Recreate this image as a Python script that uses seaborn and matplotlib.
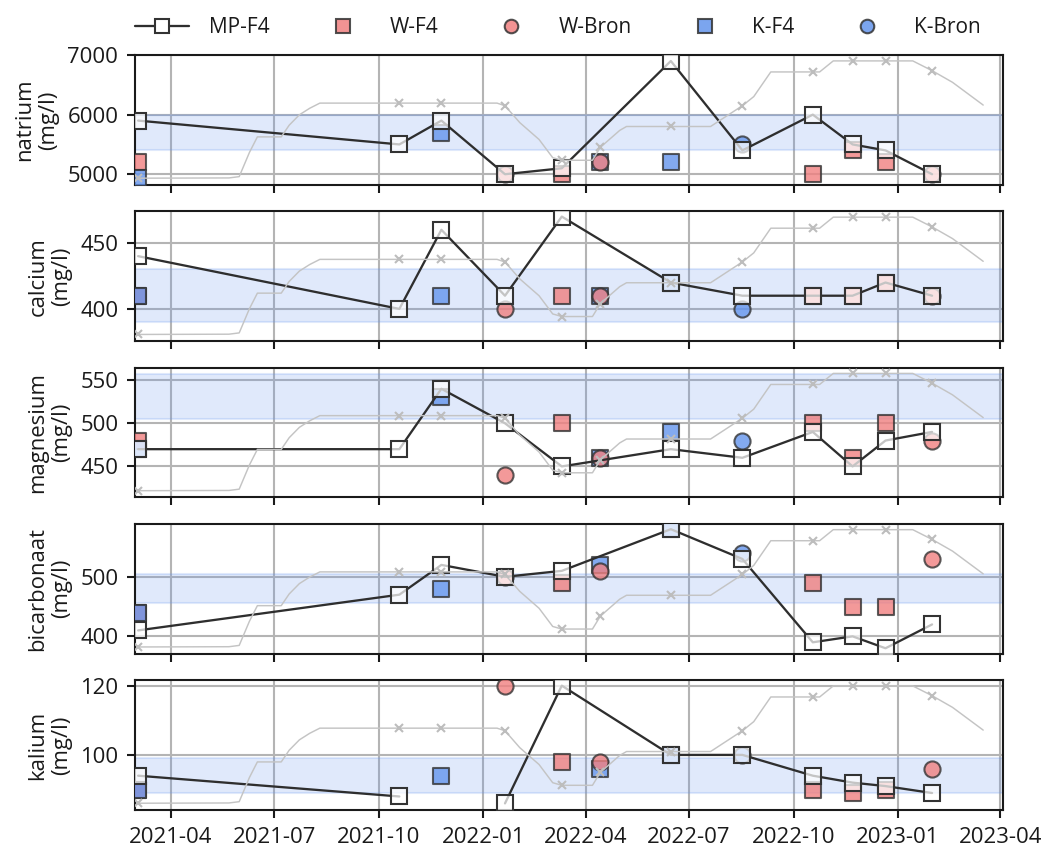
import numpy as np
import pandas as pd
import matplotlib
matplotlib.use("Agg")
import matplotlib.pyplot as plt
import matplotlib.dates as mdates
from matplotlib.lines import Line2D
import seaborn as sns

# ---- sample dates per source -------------------------------------------
mp_dates = ["2021-03-03", "2021-10-19", "2021-11-25", "2022-01-20", "2022-03-11",
            "2022-06-15", "2022-08-17", "2022-10-18", "2022-11-22", "2022-12-21",
            "2023-01-31"]
wf4_dates = ["2021-03-03", "2022-03-11", "2022-10-18", "2022-11-22", "2022-12-21"]
wbron_dates = ["2022-01-20", "2022-04-14", "2023-01-31"]
kf4_dates = ["2021-03-03", "2021-11-25", "2022-04-14", "2022-06-15"]
kbron_dates = ["2022-08-17"]

nan = np.nan

# ---- concentrations (mg/l) ---------------------------------------------
natrium_mp = [5900, 5500, 5900, 5000, 5100, 6900, 5400, 6000, 5500, 5400, 5000]
natrium_wf4 = [5200, 5000, 5000, 5400, 5200]
natrium_wbron = [5000, 5200, 5000]
natrium_kf4 = [4930, 5700, 5200, 5200]
natrium_kbron = [5500]

calcium_mp = [440, 400, 460, 410, 470, 420, 410, 410, 410, 420, 410]
calcium_wf4 = [410, 410, 410, 410, 420]
calcium_wbron = [400, 410, 410]
calcium_kf4 = [410, 410, 410, 420]
calcium_kbron = [400]

magnesium_mp = [470, 470, 540, 500, 450, 470, 460, 490, 450, 480, 490]
magnesium_wf4 = [480, 500, 500, 460, 500]
magnesium_wbron = [440, 460, 480]
magnesium_kf4 = [470, 530, 460, 490]
magnesium_kbron = [480]

bicarbonaat_mp = [410, 470, 520, 500, 510, 580, 530, 390, 400, 380, 420]
bicarbonaat_wf4 = [440, 490, 490, 450, 450]
bicarbonaat_wbron = [500, 510, 530]
bicarbonaat_kf4 = [440, 480, 520, 580]
bicarbonaat_kbron = [540]

kalium_mp = [94, 88, nan, 86, 120, 100, 100, 94, 92, 91, 89]
kalium_wf4 = [90, 98, 90, 89, 90]
kalium_wbron = [120, 98, 96]
kalium_kf4 = [90, 94, 96, 100]
kalium_kbron = [100]

# ---- reference bands and axis ranges ----------------------------------
params = ["natrium", "calcium", "magnesium", "bicarbonaat", "kalium"]
band_low = [5400, 390, 505, 456, 89]
band_high = [6000, 430, 557, 505, 99]
y_min = [4820, 375.5, 414, 370.8, 84.1]
y_max = [7000, 474, 564.6, 589, 121.6]
y_ticks = [[5000, 6000, 7000], [400, 450], [450, 500, 550], [400, 500], [100, 120]]

# ---- relative trend (percent of panel scale), drawn on a hidden twin axis
trend_dates = ["2021-03-03", "2021-05-22", "2021-05-31", "2021-06-09", "2021-06-16",
               "2021-07-07", "2021-07-14", "2021-07-23", "2021-08-01", "2021-08-10",
               "2021-10-19", "2021-11-25", "2022-01-13", "2022-01-20", "2022-02-02",
               "2022-02-19", "2022-03-03", "2022-03-11", "2022-04-07", "2022-04-14",
               "2022-05-01", "2022-05-07", "2022-06-15", "2022-07-20", "2022-08-17",
               "2022-08-27", "2022-09-11", "2022-10-18", "2022-10-24", "2022-11-05",
               "2022-11-22", "2022-12-21", "2023-01-14", "2023-01-31", "2023-02-18",
               "2023-03-17"]
trend_values = [5.2, 5.4, 6.4, 25, 37, 37, 46, 54, 59, 63,
                63, 63, 63, 61, 48, 35, 21, 19, 19, 29,
                42, 45, 45, 45, 61, 68, 87, 87, 87, 95.5,
                95.5, 95.5, 95.5, 88, 79, 61.5]
trend_marks = [0, 10, 11, 13, 17, 19, 22, 24, 27, 30, 31, 33]

x_start, x_end = "2021-02-28 06:00", "2023-04-03 18:00"

# ---- style ------------------------------------------------------------
sns.set_theme(style="whitegrid", rc={
    "font.size": 10.6, "axes.labelsize": 10.6, "xtick.labelsize": 10.6,
    "ytick.labelsize": 10.6, "legend.fontsize": 10,
    "axes.edgecolor": "#1a1a1a", "axes.linewidth": 1.0,
    "grid.color": "#b4b4b4", "grid.linewidth": 1.0,
    "xtick.bottom": True, "ytick.left": True,
    "xtick.color": "#1a1a1a", "ytick.color": "#1a1a1a",
    "xtick.major.size": 4, "ytick.major.size": 4,
    "xtick.major.width": 1.0, "ytick.major.width": 1.0,
    "text.color": "#1a1a1a", "axes.labelcolor": "#1a1a1a",
})
plt.rcParams["font.family"] = ["Open Sans", "DejaVu Sans"]

red = "lightcoral"
blue = "cornflowerblue"
edge = "#333333"

fig, axes = plt.subplots(5, 1, sharex=True, figsize=(1048 / 150, 847 / 150), dpi=150)
fig.subplots_adjust(left=0.1288, right=0.9574, top=0.935, bottom=0.0437, hspace=0.203)

to_dt = pd.to_datetime
series = {
    "natrium": (natrium_mp, natrium_wf4, natrium_wbron, natrium_kf4, natrium_kbron),
    "calcium": (calcium_mp, calcium_wf4, calcium_wbron, calcium_kf4, calcium_kbron),
    "magnesium": (magnesium_mp, magnesium_wf4, magnesium_wbron, magnesium_kf4, magnesium_kbron),
    "bicarbonaat": (bicarbonaat_mp, bicarbonaat_wf4, bicarbonaat_wbron, bicarbonaat_kf4, bicarbonaat_kbron),
    "kalium": (kalium_mp, kalium_wf4, kalium_wbron, kalium_kf4, kalium_kbron),
}

for i, (ax, name) in enumerate(zip(axes, params)):
    mp, wf4, wbron, kf4, kbron = series[name]
    ax.set_axisbelow(True)
    ax.axhspan(band_low[i], band_high[i], color=blue, alpha=0.2, lw=1, zorder=1)

    marker_kw = dict(ax=ax, edgecolor=edge, linewidth=1.0, alpha=0.8, legend=False, zorder=3)
    sns.scatterplot(x=to_dt(wf4_dates), y=wf4, marker="s", s=52, color=red, **marker_kw)
    sns.scatterplot(x=to_dt(kf4_dates), y=kf4, marker="s", s=52, color=blue, **marker_kw)
    sns.scatterplot(x=to_dt(wbron_dates), y=wbron, marker="o", s=60, color=red, **marker_kw)
    sns.scatterplot(x=to_dt(kbron_dates), y=kbron, marker="o", s=60, color=blue, **marker_kw)

    ax.plot(to_dt(mp_dates), mp, color="#2e2e2e", lw=1.1, marker="s", ms=7.4,
            mfc=(1, 1, 1, 0.72), mec=edge, mew=1.0, zorder=4)

    ax.set_ylim(y_min[i], y_max[i])
    ax.set_yticks(y_ticks[i])
    ax.set_ylabel(f"{name}\n(mg/l)", linespacing=1.15)
    ax.tick_params(axis="both", pad=4)
    for sp in ax.spines.values():
        sp.set_visible(True)
        sp.set_color("#1a1a1a")

    tw = ax.twinx()
    sns.lineplot(x=to_dt(trend_dates), y=trend_values, ax=tw, color="#c4c4c4", lw=0.7,
                 marker="x", markevery=trend_marks, ms=3.5, mew=1.0, mec="#bdbdbd")
    tw.set_ylim(0, 100)
    tw.set_yticks([])
    tw.set_ylabel("")
    tw.grid(False)
    for sp in tw.spines.values():
        sp.set_visible(False)

axes[0].set_xlim(to_dt(x_start), to_dt(x_end))
axes[-1].xaxis.set_major_locator(mdates.MonthLocator(bymonth=[1, 4, 7, 10]))
axes[-1].xaxis.set_major_formatter(mdates.DateFormatter("%Y-%m"))
for ax in axes:
    ax.set_xlabel("")

handles = [
    Line2D([], [], color="#2e2e2e", lw=1.1, marker="s", ms=6.5, mfc="white", mec=edge),
    Line2D([], [], lw=0, marker="s", ms=6.5, mfc=red, mec=edge, alpha=0.85),
    Line2D([], [], lw=0, marker="o", ms=6.5, mfc=red, mec=edge, alpha=0.85),
    Line2D([], [], lw=0, marker="s", ms=6.5, mfc=blue, mec=edge, alpha=0.85),
    Line2D([], [], lw=0, marker="o", ms=6.5, mfc=blue, mec=edge, alpha=0.85),
]
labels = ["MP-F4", "W-F4", "W-Bron", "K-F4", "K-Bron"]
axes[0].legend(handles, labels, loc="lower center", bbox_to_anchor=(0.487, 1.065), ncol=5,
               frameon=False, handlelength=2.6, columnspacing=2.2, handletextpad=0.96,
               borderaxespad=0)

fig.savefig("out.png", dpi=150)
